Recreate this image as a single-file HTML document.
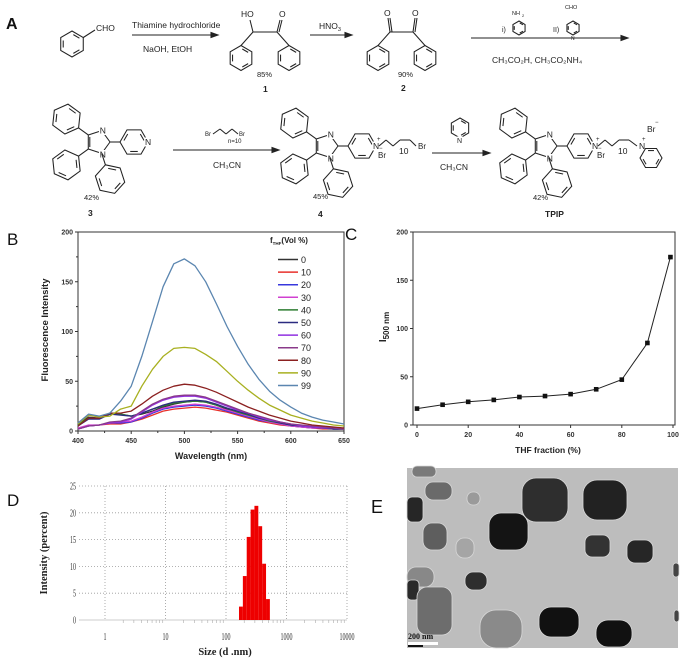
<!DOCTYPE html>
<html><head><meta charset="utf-8"><style>
html,body{margin:0;padding:0;background:#fff;}
svg{display:block;font-family:"Liberation Sans",Arial,sans-serif;}
.serif{font-family:"Liberation Serif",serif;}
</style></head><body>
<svg id="fig" width="685" height="661" viewBox="0 0 685 661" xmlns="http://www.w3.org/2000/svg">
<rect width="685" height="661" fill="#fff"/>
<g id="panelA" stroke="#222" fill="none" stroke-width="1.05"></g>
<g id="panelB"></g>
<g id="panelC"></g>
<g id="panelD"></g>
<g id="panelE"></g>
</svg>
<script>
// ---------- Panel B data ----------
const wavelengths=[400,410,420,430,440,450,460,470,480,490,500,510,520,530,540,550,560,570,580,590,600,610,620,630,640,650];
const fractionLabels=["0","10","20","30","40","50","60","70","80","90","99"];
const seriesColors=["#333333","#e8312b","#3838dd","#d040d0","#2e7d32","#2b2b80","#9030e0","#8a3a8a","#8b2020","#a8b020","#5b86b0"];
const s0=[7,14,13,17,17,15,17,20,24,27,29,30,29,26,22,19,16,13,10,8,6,5,4,3,2,2];
const s10=[2,5,6,7,7,9,12,16,20,22,23,24,23,21,19,16,13,10,8,6,5,4,3,2,2,2];
const s20=[2,5,6,8,8,9,13,18,22,24,25,26,25,23,20,17,14,11,9,7,5,4,3,3,2,2];
const s30=[3,6,6,8,9,10,14,19,23,25,26,27,26,24,21,18,15,12,9,7,5,4,3,3,2,2];
const s40=[6,13,13,18,17,15,18,22,25,28,29,30,29,26,23,19,16,13,10,8,6,5,4,3,2,2];
const s50=[5,12,12,17,16,15,18,22,26,29,30,31,30,27,23,20,17,13,11,8,6,5,4,3,2,2];
const s60=[2,5,6,8,9,12,19,26,31,34,35,35,33,29,25,21,18,14,11,9,7,5,4,3,3,2];
const s70=[2,5,6,9,10,13,20,27,32,35,36,36,34,30,26,22,18,15,12,9,7,6,5,4,3,2];
const s80=[5,13,13,18,18,20,27,35,41,45,47,46,43,39,34,29,24,20,16,13,10,8,6,5,4,3];
const s90=[7,16,14,15,22,25,45,62,75,83,84,83,77,70,60,50,41,33,26,21,16,13,10,8,6,5];
const s99=[8,17,15,18,30,45,75,110,145,168,173,166,150,128,105,85,67,52,40,31,24,18,14,11,9,7];
const bSeries=[s0,s10,s20,s30,s40,s50,s60,s70,s80,s90,s99];
const bXTicks=[400,450,500,550,600,650];
const bYTicks=[0,50,100,150,200];
// ---------- Panel C data ----------
const thfFractions=[0,10,20,30,40,50,60,70,80,90,99];
const i500=[17,21,24,26,29,30,32,37,47,85,174];
const cXTicks=[0,20,40,60,80,100];
const cYTicks=[0,50,100,150,200];
// ---------- Panel D data ----------
const binEdges=[164,190,220,255,295,342,396,459,531];
const binValues=[2.5,8.2,15.5,20.6,21.3,17.5,10.5,3.9];
const dXTicks=[1,10,100,1000,10000];
const dYTicks=[0,5,10,15,20,25];

const NS="http://www.w3.org/2000/svg";
function mk(parent,tag,attrs,text){const e=document.createElementNS(NS,tag);for(const k in attrs)e.setAttribute(k,attrs[k]);if(text!==undefined)e.textContent=text;parent.appendChild(e);return e;}

// ================= Panel A =================
const A=document.getElementById('panelA');
function ring(cx,cy,r,ang){
  const pts=[];for(let i=0;i<6;i++){const a=(ang+60*i)*Math.PI/180;pts.push([cx+r*Math.cos(a),cy+r*Math.sin(a)]);}
  const p=mk(A,'polygon',{points:pts.map(q=>q.join(',')).join(' ')});
  
  
  for(let i=0;i<6;i+=2){const a=pts[i],b=pts[(i+1)%6];const f=0.78;
    mk(A,'line',{x1:cx+(a[0]-cx)*f+(b[0]-a[0])*0.12,y1:cy+(a[1]-cy)*f+(b[1]-a[1])*0.12,x2:cx+(b[0]-cx)*f-(b[0]-a[0])*0.12,y2:cy+(b[1]-cy)*f-(b[1]-a[1])*0.12});}
  return pts;
}
function ln(x1,y1,x2,y2){mk(A,'line',{x1,y1,x2,y2});}
function txt(x,y,s,size,opts){const t=mk(A,'text',Object.assign({x,y,'font-size':size||8,fill:'#222',stroke:'none'},opts||{}),s);return t;}
function arrow(x1,x2,y,name){const g=mk(A,'g',{});
  mk(g,'line',{x1,y1:y,x2:x2-5,y2:y});mk(g,'polygon',{points:`${x2},${y} ${x2-7},${y-2.5} ${x2-7},${y+2.5}`,fill:'#222'});}
function sub(t,s){mk(t,'tspan',{'font-size':5.5,dy:2},s);}

txt(6,29,'A',16,{'font-weight':'bold',fill:'#111'});
ring(72,44,13,-90);ln(83.3,37.5,95,30);txt(96,31,'CHO',8.5);
arrow(132,218,35,'reaction-arrow-1');
txt(132,28,'Thiamine hydrochloride',8.5);txt(143,52,'NaOH, EtOH',8.5);
ring(241,58,12.5,-90);ring(289,58,12.5,-90);
ln(241,45.5,253,32);ln(253,32,277,32);ln(277,32,289,45.5);ln(253,32,250,20);ln(277,32,280,20);ln(279,32,282,20);
txt(241,17,'HO',8.5);txt(279,17,'O',8.5);txt(257,77,'85%',7.5);txt(263,92,'1',8.5,{'font-weight':'bold'});
arrow(310,352,35,'reaction-arrow-2');
const h=txt(319,29,'HNO',8.5);sub(h,'3');
ring(378,58,12.5,-90);ring(425,58,12.5,-90);
ln(378,45.5,390,32);ln(390,32,413,32);ln(413,32,425,45.5);ln(390,32,388,18);ln(392,32,390,18);ln(413,32,415,18);ln(415,32,417,18);
txt(384,16,'O',8.5);txt(412,16,'O',8.5);txt(398,77,'90%',7.5);txt(401,91,'2',8.5,{'font-weight':'bold'});
arrow(471,628,38,'reaction-arrow-3');
txt(502,32,'i)',7);ring(519,28,7,-90);txt(512,15,'NH',5.5);txt(522,17,'2',4);
txt(553,32,'II)',7);ring(573,28,7,-90);txt(565,9,'CHO',5.5);txt(571,40,'N',5);
txt(492,63,'CH₃CO₂H, CH₃CO₂NH₄',8.5);

function core(ox,oy,nPlus){
  const cx=98+ox,cy=142+oy,R=12;const v=[];
  for(let i=0;i<5;i++){const a=(72*i)*Math.PI/180;v.push([cx+R*Math.cos(a),cy+R*Math.sin(a)]);}
  const pg=mk(A,'polygon',{points:v.map(q=>q.join(',')).join(' ')});
  
  
  ln(v[2][0]+1.5,v[2][1]-2,v[3][0]+1.5,v[3][1]+2);
  txt(v[4][0]-2,v[4][1]+3,'N',8.5,{stroke:'#fff','stroke-width':3,'paint-order':'stroke'});
  txt(v[1][0]-2,v[1][1]+4,'N',8.5,{stroke:'#fff','stroke-width':3,'paint-order':'stroke'});
  const px=v[0][0]+24,py=v[0][1];ln(v[0][0],v[0][1],px-14,py);
  ring(px,py,14,180);
  txt(px+11,py+3,'N',8.5,{stroke:'#fff','stroke-width':3,'paint-order':'stroke'});
  if(nPlus){txt(px+15,py-5,'+',6);}
  const dirs=[[v[3],-144],[v[2],144],[v[1],72]];
  dirs.forEach(([p,a])=>{const r=a*Math.PI/180;const d=[Math.cos(r),Math.sin(r)];
    const qx=p[0]+d[0]*27,qy=p[1]+d[1]*27;ln(p[0],p[1],p[0]+d[0]*12,p[1]+d[1]*12);ring(qx,qy,15,a+180);});
  return [px+14,py];
}
core(0,0,false);txt(84,200,'42%',7.5);txt(88,216,'3',8.5,{'font-weight':'bold'});
arrow(173,279,150,'reaction-arrow-4');
txt(205,136,'Br',6);ln(213,134,220,129);ln(220,129,226,134);ln(226,134,232,129);ln(232,129,238,134);txt(239,136,'Br',6);txt(228,143,'n=10',6);
txt(213,168,'CH₃CN',8.5);
let e=core(228,4,true);
ln(e[0]+3,e[1],e[0]+10,e[1]-6);ln(e[0]+10,e[1]-6,e[0]+17,e[1]);ln(e[0]+17,e[1],e[0]+24,e[1]-6);ln(e[0]+24,e[1]-6,e[0]+34,e[1]-6);ln(e[0]+34,e[1]-6,e[0]+40,e[1]);
txt(e[0]+2,e[1]+12,'Br',8);txt(e[0]+3,e[1]+4,'−',6);txt(e[0]+23,e[1]+8,'10',8.5);txt(e[0]+42,e[1]+3,'Br',8);
txt(313,199,'45%',7.5);txt(318,217,'4',8.5,{'font-weight':'bold'});
arrow(432,490,153,'reaction-arrow-5');
ring(460,128,10,-90);txt(457,143,'N',7,{stroke:'#fff','stroke-width':3,'paint-order':'stroke'});
txt(440,170,'CH₃CN',8.5);
e=core(447,4,true);
ln(e[0]+3,e[1],e[0]+10,e[1]-6);ln(e[0]+10,e[1]-6,e[0]+17,e[1]);ln(e[0]+17,e[1],e[0]+24,e[1]-6);ln(e[0]+24,e[1]-6,e[0]+34,e[1]-6);ln(e[0]+34,e[1]-6,e[0]+42,e[1]);
txt(e[0]+2,e[1]+12,'Br',8);txt(e[0]+3,e[1]+4,'−',6);txt(e[0]+23,e[1]+8,'10',8.5);
txt(e[0]+44,e[1]+3,'N',8.5);txt(e[0]+47,e[1]-5,'+',6);ring(e[0]+56,e[1]+12,11,-120);
txt(e[0]+52,e[1]-14,'Br',8.5);txt(e[0]+60,e[1]-22,'−',6);
txt(533,200,'42%',7.5);txt(545,217,'TPIP',8.5,{'font-weight':'bold'});

// ================= Panel B =================
const B=document.getElementById('panelB');
const bx0=78,bx1=344,by0=431,by1=232;
const bX=w=>bx0+(w-400)/250*(bx1-bx0);
const bY=v=>by0-v/200*(by0-by1);
mk(B,'text',{x:7,y:245,'font-size':17,fill:'#111'},'B');
const bAx=mk(B,'rect',{x:bx0,y:by1,width:bx1-bx0,height:by0-by1,fill:'none',stroke:'#333','stroke-width':1});


bXTicks.forEach(t=>{mk(B,'line',{x1:bX(t),y1:by0,x2:bX(t),y2:by0+3,stroke:'#333'});
  const l=mk(B,'text',{x:bX(t),y:by0+12,'font-size':7,'font-weight':'bold','text-anchor':'middle',fill:'#333'},t);
  
  
  if(t<650){mk(B,'line',{x1:bX(t+25),y1:by0,x2:bX(t+25),y2:by0+2,stroke:'#333'});}});
bYTicks.forEach(t=>{mk(B,'line',{x1:bx0-3,y1:bY(t),x2:bx0,y2:bY(t),stroke:'#333'});
  const l=mk(B,'text',{x:bx0-5,y:bY(t)+2.5,'font-size':7,'font-weight':'bold','text-anchor':'end',fill:'#333'},t);
  
  
  if(t<200)mk(B,'line',{x1:bx0-2,y1:bY(t+25),x2:bx0,y2:bY(t+25),stroke:'#333'});});
const bxl=mk(B,'text',{x:211,y:459,'font-size':9,'font-weight':'bold','text-anchor':'middle',fill:'#222'},'Wavelength (nm)');


const byl=mk(B,'text',{x:0,y:0,'font-size':9.5,'font-weight':'bold','text-anchor':'middle',fill:'#222',transform:'translate(48,330) rotate(-90)'},'Fluorescence Intensity');


bSeries.forEach((s,i)=>{const d=s.map((v,j)=>(j?'L':'M')+bX(wavelengths[j]).toFixed(1)+','+bY(v).toFixed(1)).join('');
  const p=mk(B,'path',{d,fill:'none',stroke:seriesColors[i],'stroke-width':1.3,'stroke-linejoin':'round'});
  
  });
const lt=mk(B,'text',{x:270,y:243,'font-size':8,'font-weight':'bold',fill:'#222'},'f');
mk(lt,'tspan',{'font-size':4.5,dy:2},'THF');mk(lt,'tspan',{dy:-2},'(Vol %)');


fractionLabels.forEach((f,i)=>{const y=259.5+i*12.6;
  const g=mk(B,'g',{});
  mk(g,'line',{x1:278,y1:y,x2:298,y2:y,stroke:seriesColors[i],'stroke-width':1.5});
  mk(g,'text',{x:301,y:y+3.5,'font-size':9,fill:'#222'},f);});

// ================= Panel C =================
const C=document.getElementById('panelC');
const cx0=413,cx1=675,cy0=425,cy1=232;
const cX=v=>417+v/100*(673-417);
const cY=v=>425-v/200*(425-232);
mk(C,'text',{x:345,y:240,'font-size':17,fill:'#111'},'C');
const cf=mk(C,'rect',{x:cx0,y:cy1,width:cx1-cx0,height:cy0-cy1,fill:'none',stroke:'#333','stroke-width':1});


cXTicks.forEach(t=>{mk(C,'line',{x1:cX(t),y1:cy0,x2:cX(t),y2:cy0+3,stroke:'#333'});
  const l=mk(C,'text',{x:cX(t),y:cy0+12,'font-size':7,'font-weight':'bold','text-anchor':'middle',fill:'#333'},t);
  
  });
cYTicks.forEach(t=>{mk(C,'line',{x1:cx0-3,y1:cY(t),x2:cx0,y2:cY(t),stroke:'#333'});
  const l=mk(C,'text',{x:cx0-5,y:cY(t)+2.5,'font-size':7,'font-weight':'bold','text-anchor':'end',fill:'#333'},t);
  
  });
const cxl=mk(C,'text',{x:548,y:453,'font-size':8.5,'font-weight':'bold','text-anchor':'middle',fill:'#222'},'THF fraction (%)');


const cyl=mk(C,'text',{x:0,y:0,'font-size':10,'font-weight':'bold','text-anchor':'middle',fill:'#222',transform:'translate(386,327) rotate(-90)'},'I');
mk(cyl,'tspan',{'font-size':8,dy:3},'500 nm');


const cl=mk(C,'path',{d:i500.map((v,j)=>(j?'L':'M')+cX(thfFractions[j]).toFixed(1)+','+cY(v).toFixed(1)).join(''),fill:'none',stroke:'#222','stroke-width':1});


i500.forEach((v,j)=>{const r=mk(C,'rect',{x:cX(thfFractions[j])-2.3,y:cY(v)-2.3,width:4.6,height:4.6,fill:'#111'});
  
  });

// ================= Panel D =================
const D=document.getElementById('panelD');
const dX=v=>105+Math.log10(v)*60.5;
const dY=v=>620-v/25*(620-486);
mk(D,'text',{x:7,y:506,'font-size':17,fill:'#111'},'D');
dYTicks.forEach(t=>{mk(D,'line',{x1:79,y1:dY(t),x2:347,y2:dY(t),stroke:t?'#999':'#bbb','stroke-dasharray':t?'1,2':'','stroke-width':0.8});
  const l=mk(D,'text',{x:0,y:0,'font-size':10,'text-anchor':'end',fill:'#333',class:'serif',transform:`translate(76,${dY(t)+3.5}) scale(0.6,1)`},t);
  
  });
dXTicks.forEach(t=>{mk(D,'line',{x1:dX(t),y1:dY(25),x2:dX(t),y2:dY(0),stroke:'#999','stroke-dasharray':'1,2','stroke-width':0.8});
  const l=mk(D,'text',{x:0,y:0,'font-size':10,'text-anchor':'middle',fill:'#333',class:'serif',transform:`translate(${dX(t)},640) scale(0.6,1)`},t);
  
  });
for(let dec=0;dec<4;dec++)for(let k=2;k<10;k++){const x=dX(k*Math.pow(10,dec));mk(D,'line',{x1:x,y1:620,x2:x,y2:623,stroke:'#aaa','stroke-width':0.6});}
binValues.forEach((v,i)=>{const r=mk(D,'rect',{x:dX(binEdges[i]),y:dY(v),width:dX(binEdges[i+1])-dX(binEdges[i]),height:dY(0)-dY(v),fill:'#ee0000'});
  
  });
const dxl=mk(D,'text',{x:225,y:655,'font-size':10.5,'font-weight':'bold','text-anchor':'middle',fill:'#222',class:'serif'},'Size (d .nm)');


const dyl=mk(D,'text',{x:0,y:0,'font-size':10.5,'font-weight':'bold','text-anchor':'middle',fill:'#222',class:'serif',transform:'translate(47,553) rotate(-90)'},'Intensity (percent)');



// ================= Panel E =================
const E=document.getElementById('panelE');
mk(E,'text',{x:371,y:513,'font-size':18,fill:'#111'},'E');
mk(E,'rect',{x:407,y:468,width:271,height:180,fill:'#bdbdbd'});
const blobs=[[412,466,24,11,'#7a7a7a',5],[425,482,27,18,'#6a6a6a',8],[467,492,13,13,'#9a9a9a',6],[522,478,46,44,'#2e2e2e',14],[583,480,44,40,'#222',14],[407,497,16,25,'#262626',5],[489,513,39,37,'#141414',12],[423,523,24,27,'#5e5e5e',9],[456,538,18,20,'#a5a5a5',8],[585,535,25,22,'#333',7],[627,540,26,23,'#262626',8],[465,572,22,18,'#2e2e2e',8],[407,567,27,20,'#888',9],[407,580,12,20,'#2a2a2a',4],[417,587,35,48,'#6d6d6d',10],[480,610,42,38,'#8a8a8a',16],[539,607,40,30,'#111',12],[596,620,36,27,'#111',12],[673,563,6,14,'#444',3],[674,610,5,12,'#444',3]];
blobs.forEach(b=>{const r=mk(E,'rect',{x:b[0],y:b[1],width:b[2],height:b[3],rx:b[5],fill:b[4],stroke:'#d8d8d8','stroke-width':0.8});
  
  });
mk(E,'rect',{x:408,y:642,width:30,height:3,fill:'#fff'});mk(E,'rect',{x:408,y:645,width:15,height:2,fill:'#111'});
const sb=mk(E,'text',{x:408,y:639,'font-size':8,'font-weight':'bold',fill:'#111',class:'serif'},'200 nm');


</script>
</body></html>
